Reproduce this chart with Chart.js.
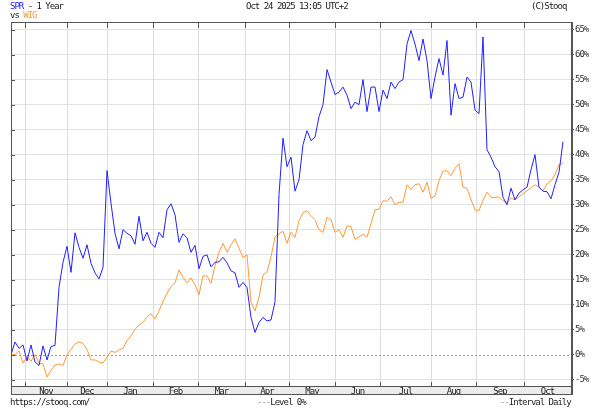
<!DOCTYPE html>
<html>
<head>
<meta charset="utf-8">
<script src="https://cdn.jsdelivr.net/npm/chart.js@4.4.1/dist/chart.umd.min.js"></script>
<style>
html, body { margin: 0; padding: 0; background: #fff; }
#wrap { position: relative; width: 604px; height: 416px; overflow: hidden;
  font-family: "DejaVu Sans Mono", monospace; font-size: 9px; letter-spacing: -1px; color: #222; }
#wrap canvas { position: absolute; left: 0; top: 0; }
.t { position: absolute; white-space: pre; line-height: 10px; }
.spr { color: #2020ff; }
.wig { color: #ff9933; }
.dash { color: #999; }
</style>
</head>
<body>
<div id="wrap">
  <canvas id="myChart" width="604" height="416"></canvas>
  <div class="t" style="left:10px;top:1px"><span class="spr">SPR</span> - 1 Year</div>
  <div class="t" style="left:10px;top:10px">vs <span class="wig">WIG</span></div>
  <div class="t" style="left:246px;top:1px">Oct 24 2025 13:05 UTC+2</div>
  <div class="t" style="left:531px;top:1px">(C)Stooq</div>
  <div class="t" style="left:10px;top:397px">https://stooq.com/</div>
  <div class="t" style="left:257px;top:397px"><span class="dash">---</span>Level 0%</div>
  <div class="t" style="left:500px;top:397px"><span class="dash">--</span>Interval Daily</div>
</div>
<script>
'use strict';

// month names and where each month starts (in sample steps, ~2 sessions each)
const months = ['Nov', 'Dec', 'Jan', 'Feb', 'Mar', 'Apr', 'May', 'Jun', 'Jul', 'Aug', 'Sep', 'Oct'];
const monthStarts = [3.5, 14, 24, 35.5, 46.75, 58.5, 69.5, 81, 92.25, 105, 116.25, 128.25];
const xEnd = 140;

// % change since start
const spr = [0, 2.6, 1.3, 2.0, -1.2, 2.0, -1.4, -2.1, 1.8, -1.0,
    1.7, 1.9, 13.5, 18.5, 21.7, 16.5, 24.4, 21.5, 19.3, 22,
    18.3, 16.4, 15.2, 17.5, 36.8, 30.3, 24.3, 21.2, 25, 24.3,
    23.8, 22.1, 27.7, 22.8, 24.5, 22.3, 21.5, 24.5, 23.4, 29,
    30.2, 28, 22.5, 24.2, 23.4, 20.5, 21.9, 17.2, 19.7, 20,
    17.6, 18.5, 18.6, 19.5, 18.4, 16.8, 16.4, 13.5, 14.5, 13.5,
    7.5, 4.5, 6.5, 7.5, 6.8, 7, 10.6, 32, 43.3, 37.6,
    39.5, 32.7, 35, 42, 44.8, 42.8, 43.5, 47.6, 50, 57,
    54.5, 52, 52.5, 53.5, 51.9, 49.2, 50.5, 50, 55, 48.6,
    53.5, 53.5, 48.6, 52.9, 51.2, 54.5, 53.2, 54.5, 55, 62.1,
    64.8, 62.1, 58.8, 63.1, 58.8, 51.2, 55.5, 59.2, 55.9, 62.8,
    47.9, 54.2, 51.2, 51.5, 55.5, 54.5, 48.9, 48.2, 63.5, 41,
    39.5, 37.6, 36.6, 31.5, 30, 33.3, 31, 32.3, 33, 33.5,
    37, 40, 33.5, 32.7, 32.6, 31.2, 34, 36.5, 42.6];

const wig = [0, 0.1, 0.8, -1.6, -0.3, -1.3, 0.1, -1.6, -1.8, -4.4,
    -3.1, -2.0, -1.8, -2.1, 0, 1.1, 2.2, 2.6, 2.3, 1.1,
    -1.0, -1.0, -1.4, -1.6, -0.4, 0.8, 0.5, 1.0, 1.3, 2.9,
    3.8, 5.1, 6.0, 6.5, 7.6, 8.2, 7.2, 8.8, 10.7, 12.3,
    13.7, 14.4, 17.0, 15.5, 14.4, 15.4, 14.0, 12, 15.8, 15.8,
    14.3, 17.8, 20.5, 22.3, 20.5, 22, 23.2, 21.3, 19.5, 20,
    10.5, 8.8, 11.5, 16, 16.6, 19.6, 23.6, 24.2, 24.7, 22.3,
    24.5, 23.5, 26.8, 28.4, 28.8, 27.8, 27, 25, 24.5, 27.5,
    27, 24.5, 25, 23.5, 25.8, 25.6, 23.1, 23.6, 24.1, 23.5,
    26.2, 29, 29.1, 30.8, 30.7, 31.6, 30, 30.5, 30.5, 34.0,
    33.0, 34.0, 34.2, 32.5, 34.5, 31.3, 31.7, 34.8, 36.7, 36.8,
    35.8, 37.3, 38.2, 33.5, 33.3, 31, 29, 28.8, 30.9, 32.5,
    31.5, 31.4, 31.6, 30.8, 30.4, 31.3, 31, 31.6, 32.2, 32.8,
    33.4, 34, 33.5, 32.8, 34.2, 34.8, 36, 38, 38.3];

const labels = spr.map((v, i) => i);
const monthMids = monthStarts.map((s, i) => (s + (i + 1 < monthStarts.length ? monthStarts[i + 1] : xEnd)) / 2);

const monoFont = { family: 'DejaVu Sans Mono', size: 9 };

const framePlugin = {
    id: 'frame',
    beforeDraw(chart) {
        const ctx = chart.ctx;
        const a = chart.chartArea;
        const band = chart.scales.x2;
        ctx.save();
        ctx.fillStyle = '#ececec';
        ctx.fillRect(a.left, band.top, a.right - a.left, band.bottom - band.top);
        ctx.restore();
    },
    beforeDatasetsDraw(chart) {
        const ctx = chart.ctx;
        const a = chart.chartArea;
        const y0 = Math.round(chart.scales.y.getPixelForValue(0)) + 0.5;
        ctx.save();
        ctx.strokeStyle = '#9a9a9a';
        ctx.lineWidth = 1;
        ctx.setLineDash([2, 2]);
        ctx.beginPath();
        ctx.moveTo(a.left, y0);
        ctx.lineTo(a.right, y0);
        ctx.stroke();
        ctx.restore();
    },
    afterDraw(chart) {
        const ctx = chart.ctx;
        const a = chart.chartArea;
        const band = chart.scales.x2;
        const xs = chart.scales.x;
        const ys = chart.scales.y;
        ctx.save();
        ctx.lineWidth = 1;
        ctx.strokeStyle = '#555';
        ctx.beginPath();
        // frame
        ctx.moveTo(a.left + 0.5, a.top);
        ctx.lineTo(a.left + 0.5, band.bottom);
        ctx.moveTo(a.left, a.top + 0.5);
        ctx.lineTo(a.right, a.top + 0.5);
        ctx.moveTo(a.left, a.bottom + 0.5);
        ctx.lineTo(a.right, a.bottom + 0.5);
        ctx.moveTo(a.left, band.bottom - 0.5);
        ctx.lineTo(a.right + 1, band.bottom - 0.5);
        // month ticks top and bottom
        monthStarts.forEach(m => {
            const px = Math.round(xs.getPixelForValue(m)) + 0.5;
            ctx.moveTo(px, a.top);
            ctx.lineTo(px, a.top + 6);
            ctx.moveTo(px, a.bottom - 4);
            ctx.lineTo(px, a.bottom);
        });
        // y ticks on the left
        ys.ticks.forEach(t => {
            const py = Math.round(ys.getPixelForValue(t.value)) + 0.5;
            ctx.moveTo(a.left, py);
            ctx.lineTo(a.left + 4, py);
        });
        ctx.stroke();
        ctx.lineWidth = 2;
        ctx.beginPath();
        ctx.moveTo(a.right + 1, a.top);
        ctx.lineTo(a.right + 1, band.bottom);
        ctx.stroke();
        ctx.restore();
    }
};

const ctx = document.getElementById('myChart').getContext('2d');
const myChart = new Chart(ctx, {
    type: 'line',
    data: {
        labels: labels,
        datasets: [{
            label: 'SPR',
            data: spr,
            borderColor: '#2020ff',
            borderWidth: 1,
            pointRadius: 0,
            tension: 0
        }, {
            label: 'WIG',
            data: wig,
            borderColor: '#ff9933',
            borderWidth: 1,
            pointRadius: 0,
            tension: 0
        }]
    },
    options: {
        responsive: false,
        animation: false,
        devicePixelRatio: 1,
        layout: { padding: { left: 11, top: 22, right: 0, bottom: 21 } },
        plugins: { legend: { display: false }, tooltip: { enabled: false } },
        scales: {
            x: {
                type: 'linear',
                position: 'bottom',
                min: 0,
                max: xEnd,
                afterBuildTicks: s => { s.ticks = monthStarts.map(v => ({ value: v })); },
                afterFit: s => { s.height = 0; },
                ticks: { display: false },
                grid: { color: '#dedede', drawTicks: false },
                border: { display: false }
            },
            x2: {
                type: 'linear',
                position: 'bottom',
                min: 0,
                max: xEnd,
                afterBuildTicks: s => { s.ticks = monthMids.map(v => ({ value: v })); },
                afterFit: s => { s.height = 9; },
                ticks: {
                    autoSkip: false,
                    maxRotation: 0,
                    padding: 0,
                    font: monoFont,
                    color: '#222',
                    callback: (v, i) => months[i]
                },
                grid: { display: false, drawTicks: false },
                border: { display: false }
            },
            y: {
                position: 'right',
                min: -6.2,
                max: 66.5,
                afterFit: s => { s.width = 33; },
                ticks: {
                    stepSize: 5,
                    includeBounds: false,
                    padding: 1,
                    font: monoFont,
                    color: '#333',
                    callback: v => v + '%'
                },
                grid: {
                    color: ctx => ctx.tick && ctx.tick.value === 0 ? 'rgba(0,0,0,0)' : '#e2e2e2',
                    tickColor: '#555',
                    tickLength: 3
                },
                border: { display: false }
            }
        }
    },
    plugins: [framePlugin]
});
</script>
</body>
</html>
